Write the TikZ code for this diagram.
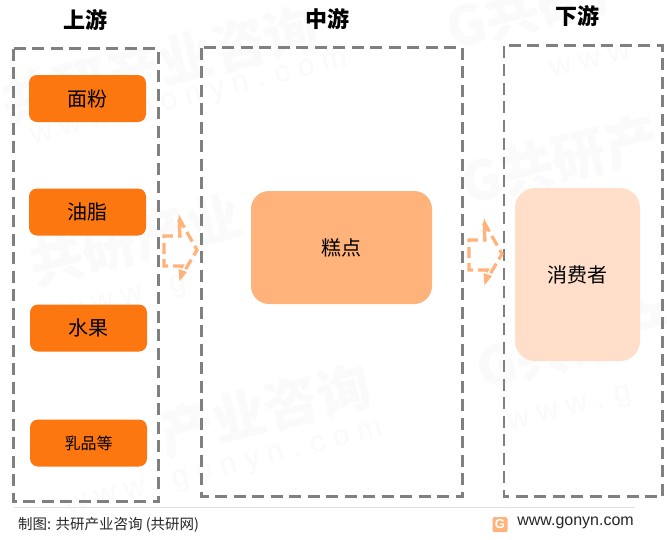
\documentclass[tikz,border=0pt]{standalone}
\usepackage{fontspec}
\setmainfont{Noto Sans CJK SC}
\newfontfamily\latinfont{Liberation Sans}
\usetikzlibrary{calc}
\definecolor{orangeA}{HTML}{FD7710}
\definecolor{orangeB}{HTML}{FFB27A}
\definecolor{orangeC}{HTML}{FFDFC9}
\definecolor{dashgray}{HTML}{808080}
\definecolor{wmgray}{HTML}{FAFAFA}
\tikzset{
  dashbox/.style={draw=dashgray,line width=2.8pt,dash pattern=on 12pt off 6.5pt},
  itembox/.style={fill=orangeA,rounded corners=8pt,minimum width=117pt,minimum height=47pt,inner sep=0pt,font=\fontsize{20}{22}\selectfont},
  title/.style={font=\fontsize{22}{24}\selectfont\bfseries,inner sep=0pt},
  flowarrow/.style={draw=orangeB,line width=3.2pt,dash pattern=on 11pt off 5pt,line join=miter,miter limit=3},
  wmcn/.style={text=wmgray,font=\fontsize{54}{56}\selectfont\bfseries,rotate=14,inner sep=0pt},
  wmen/.style={text=wmgray,font=\latinfont\fontsize{30}{32}\selectfont,rotate=14,inner sep=0pt},
}
\begin{document}
\begin{tikzpicture}[x=1pt,y=-1pt]
\useasboundingbox (0,0) rectangle (667,539);
\fill[white] (0,0) rectangle (667,539);
% watermarks
\node[wmcn] (w1) at (160,65) {共研产业咨询};
\node[wmen] (w2) at (190,100) {w w w . g o n y n . c o m};
\node[wmcn] (w3) at (545,5) {G共研产};
\node[wmen] (w4) at (590,60) {w w w};
\node[wmcn] (w5) at (560,160) {G共研产};
\node[wmcn] (w6) at (135,240) {共研产业};
\node[wmen] (w7) at (125,300) {w w w . g};
\node[wmcn] (w8) at (265,410) {产业咨询};
\node[wmen] (w9) at (225,470) {w w w . g o n y n . c o m};
\node[wmcn] (w10) at (575,345) {G共研产};
\node[wmen] (w11) at (570,410) {w w w . g};
% titles
\node[title] (t1) at (85,20) {上游};
\node[title] (t2) at (327,19) {中游};
\node[title] (t3) at (577,16) {下游};
% dashed frames
\draw[dashbox] (13.5,48.5) rectangle (158.5,501.5);
\draw[dashbox] (201.5,47.5) rectangle (462.5,496.5);
\draw[dashbox] (504,45.5) rectangle (662.5,496.5);
% items
\node[itembox] (a) at (87.5,98.5) {面粉};
\node[itembox] (b) at (87.5,212) {油脂};
\node[itembox] (c) at (88.5,328) {水果};
\node[itembox,font=\fontsize{16}{18}\selectfont] (d) at (88.5,443) {乳品等};
\node[fill=orangeB,rounded corners=18pt,minimum width=181pt,minimum height=113pt,inner sep=0pt,font=\fontsize{20}{22}\selectfont] (e) at (341.5,247.5) {糕点};
\node[fill=orangeC,rounded corners=20pt,minimum width=125pt,minimum height=173pt,inner sep=0pt,font=\fontsize{20}{22}\selectfont] (f) at (577.5,274.5) {消费者};
% arrows
\foreach \dx/\dy in {0/0,305/4}{
\begin{scope}[shift={(\dx,\dy)}]
\draw[flowarrow] (179,218) -- (197,250) -- (181,277);
\draw[flowarrow] (181,268) -- (182,266) -- (164,266) -- (164,236) -- (180,236) -- (179,220);
\fill[orangeB] (179,214) -- (184,226) -- (177.5,228) -- cycle;
\fill[orangeB] (179.5,281) -- (178.5,269) -- (187,272) -- cycle;
\end{scope}}
% footer
\draw[draw=black!12,line width=0.8pt] (14,507.5) -- (634,507.5);
\node[anchor=west,inner sep=0pt,font=\fontsize{14.5}{16}\selectfont,text=black!85] (src) at (18,524.5) {制图: 共研产业咨询 (共研网)};
\node[anchor=east,inner sep=0pt,font=\latinfont\fontsize{16}{18}\selectfont,text=black!85] (url) at (634,523) {www.gonyn.com};
\node[fill=orangeB,rounded corners=1.5pt,minimum size=15pt,inner sep=0pt,text=white,font=\latinfont\bfseries\fontsize{13}{13}\selectfont] (logo) at (500,524.5) {G};
\end{tikzpicture}
\end{document}
